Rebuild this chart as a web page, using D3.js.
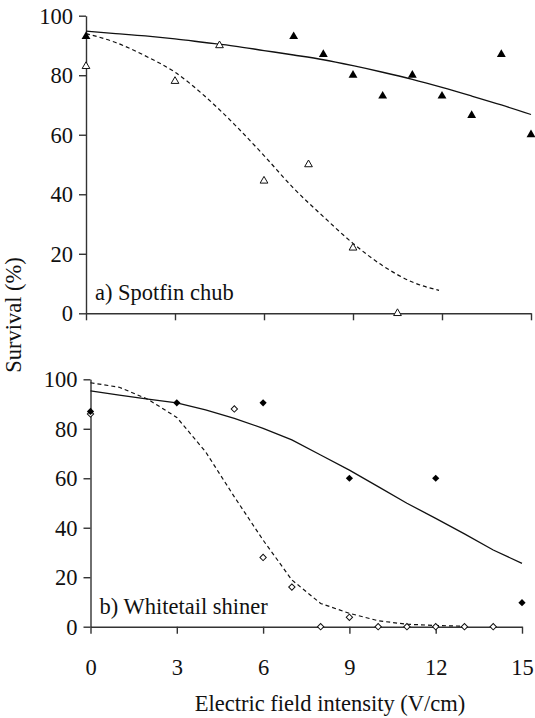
<!DOCTYPE html>
<html>
<head>
<meta charset="utf-8">
<script src="https://cdn.jsdelivr.net/npm/d3@7"></script>
<style>
  body { margin: 0; background: #fff; }
  text { font-family: "Liberation Serif", "Times New Roman", serif; fill: #111; }
</style>
</head>
<body>
<div id="chart"></div>
<script>
var xTicks = [0, 3, 6, 9, 12, 15];
var yTicks = [0, 20, 40, 60, 80, 100];

// a) Spotfin chub: filled / open triangles and their fitted curves
var chubFilled = [[0, 93], [7, 93], [8, 87], [9, 80], [10, 73], [11, 80], [12, 73], [13, 66.5], [14, 87], [15, 60]];
var chubOpen = [[0, 83], [3, 78], [4.5, 90], [6, 44.5], [7.5, 50], [9, 22], [10.5, 0]];
var chubSolid = [[0, 94.8], [1, 94], [2, 93.2], [3, 92.2], [4, 91], [5, 89.8], [6, 88.3], [7, 86.8], [8, 85.2], [9, 83.2], [10, 81], [11, 78.6], [12, 75.9], [13, 73], [14, 70], [15, 66.8]];
var chubDashed = [[0, 94], [1, 91], [2, 86.5], [3, 81], [4, 73], [5, 63.5], [6, 53], [7, 42], [8, 32.5], [9, 23.5], [10, 16], [11, 10.5], [11.9, 7.7]];

// b) Whitetail shiner: filled / open diamonds and their fitted curves
var shinerFilled = [[0, 87], [3, 90.5], [6, 90.5], [9, 60], [12, 60], [15, 9.7]];
var shinerOpen = [[0, 86], [5, 88], [6, 28], [7, 16], [8, 0], [9, 3.8], [10, 0], [11, 0], [12, 0], [13, 0], [14, 0]];
var shinerSolid = [[0, 95.3], [1, 93.6], [2, 92], [3, 90.5], [4, 87.6], [5, 84.2], [6, 80.2], [7, 75.5], [8, 69.4], [9, 63.3], [10, 56.6], [11, 49.9], [12, 43.8], [13, 37.5], [14, 31], [15, 25.6]];
var shinerDashed = [[0, 98.6], [1, 96.8], [2, 91.9], [3, 84.6], [4, 70.7], [5, 52.5], [6, 35], [7, 18.9], [8, 9.4], [9, 5.4], [10, 2.4], [11, 1], [12, 0.5], [13, 0.2]];

var svg = d3.select("#chart").append("svg")
  .attr("width", 535)
  .attr("height", 718);

var fontSize = 22.5;
var axisColor = "#333";

function drawPanel(p) {
  var x = d3.scaleLinear().domain([0, 15]).range([p.left, p.right]);
  var y = d3.scaleLinear().domain([0, 100]).range([p.bottom, p.top]);
  var g = svg.append("g");

  // axes
  var xa = g.append("g")
    .attr("transform", "translate(0," + p.bottom + ")")
    .call(d3.axisBottom(x).tickValues(xTicks).tickSize(7).tickSizeOuter(0)
      .tickFormat(p.xLabels ? d3.format("d") : ""));
  var ya = g.append("g")
    .attr("transform", "translate(" + p.left + ",0)")
    .call(d3.axisLeft(y).tickValues(yTicks).tickSize(7).tickSizeOuter(0).tickPadding(6));
  [xa, ya].forEach(function(a) {
    a.select(".domain").attr("stroke", axisColor).attr("stroke-width", 1.4);
    a.selectAll(".tick line").attr("stroke", axisColor).attr("stroke-width", 1.4);
    a.selectAll(".tick text")
      .style("font-family", "'Liberation Serif', serif")
      .style("font-size", fontSize + "px")
      .attr("fill", "#111");
  });
  xa.selectAll(".tick text").attr("dy", null).attr("y", 48);
  ya.selectAll(".tick text").attr("dy", "0.34em");

  var line = d3.line()
    .x(function(d) { return x(d[0]); })
    .y(function(d) { return y(d[1]); })
    .curve(p.curve);

  g.append("path").datum(p.solid)
    .attr("fill", "none").attr("stroke", "#111").attr("stroke-width", 1.3)
    .attr("d", line);
  g.append("path").datum(p.dashed)
    .attr("fill", "none").attr("stroke", "#111").attr("stroke-width", 1.2)
    .attr("stroke-dasharray", "4,3")
    .attr("d", line);

  g.selectAll(".open").data(p.open).enter().append("path")
    .attr("transform", function(d) { return "translate(" + x(d[0]) + "," + y(d[1]) + ")" + p.rot; })
    .attr("d", d3.symbol().type(p.symbol).size(p.openSize))
    .attr("fill", "#fff").attr("stroke", "#111").attr("stroke-width", 1);
  g.selectAll(".filled").data(p.filled).enter().append("path")
    .attr("transform", function(d) { return "translate(" + x(d[0]) + "," + y(d[1]) + ")" + p.rot; })
    .attr("d", d3.symbol().type(p.symbol).size(p.filledSize))
    .attr("fill", "#000");

  g.append("text")
    .attr("x", p.left + 9)
    .attr("y", p.bottom - 13)
    .style("font-size", fontSize + "px")
    .text(p.label);
}

drawPanel({
  left: 86, right: 531, top: 15.7, bottom: 313.3,
  xLabels: false, curve: d3.curveMonotoneX,
  solid: chubSolid, dashed: chubDashed, filled: chubFilled, open: chubOpen,
  symbol: d3.symbolTriangle, rot: "", filledSize: 34, openSize: 26,
  label: "a) Spotfin chub"
});

drawPanel({
  left: 90.5, right: 522, top: 379.3, bottom: 626.7,
  xLabels: true, curve: d3.curveLinear,
  solid: shinerSolid, dashed: shinerDashed, filled: shinerFilled, open: shinerOpen,
  symbol: d3.symbolSquare, rot: " rotate(45)", filledSize: 26, openSize: 20,
  label: "b) Whitetail shiner"
});

svg.append("text")
  .attr("transform", "translate(21,315) rotate(-90)")
  .attr("text-anchor", "middle")
  .style("font-size", fontSize + "px")
  .text("Survival (%)");

svg.append("text")
  .attr("x", 330)
  .attr("y", 711)
  .attr("text-anchor", "middle")
  .style("font-size", fontSize + "px")
  .text("Electric field intensity (V/cm)");
</script>
</body>
</html>
